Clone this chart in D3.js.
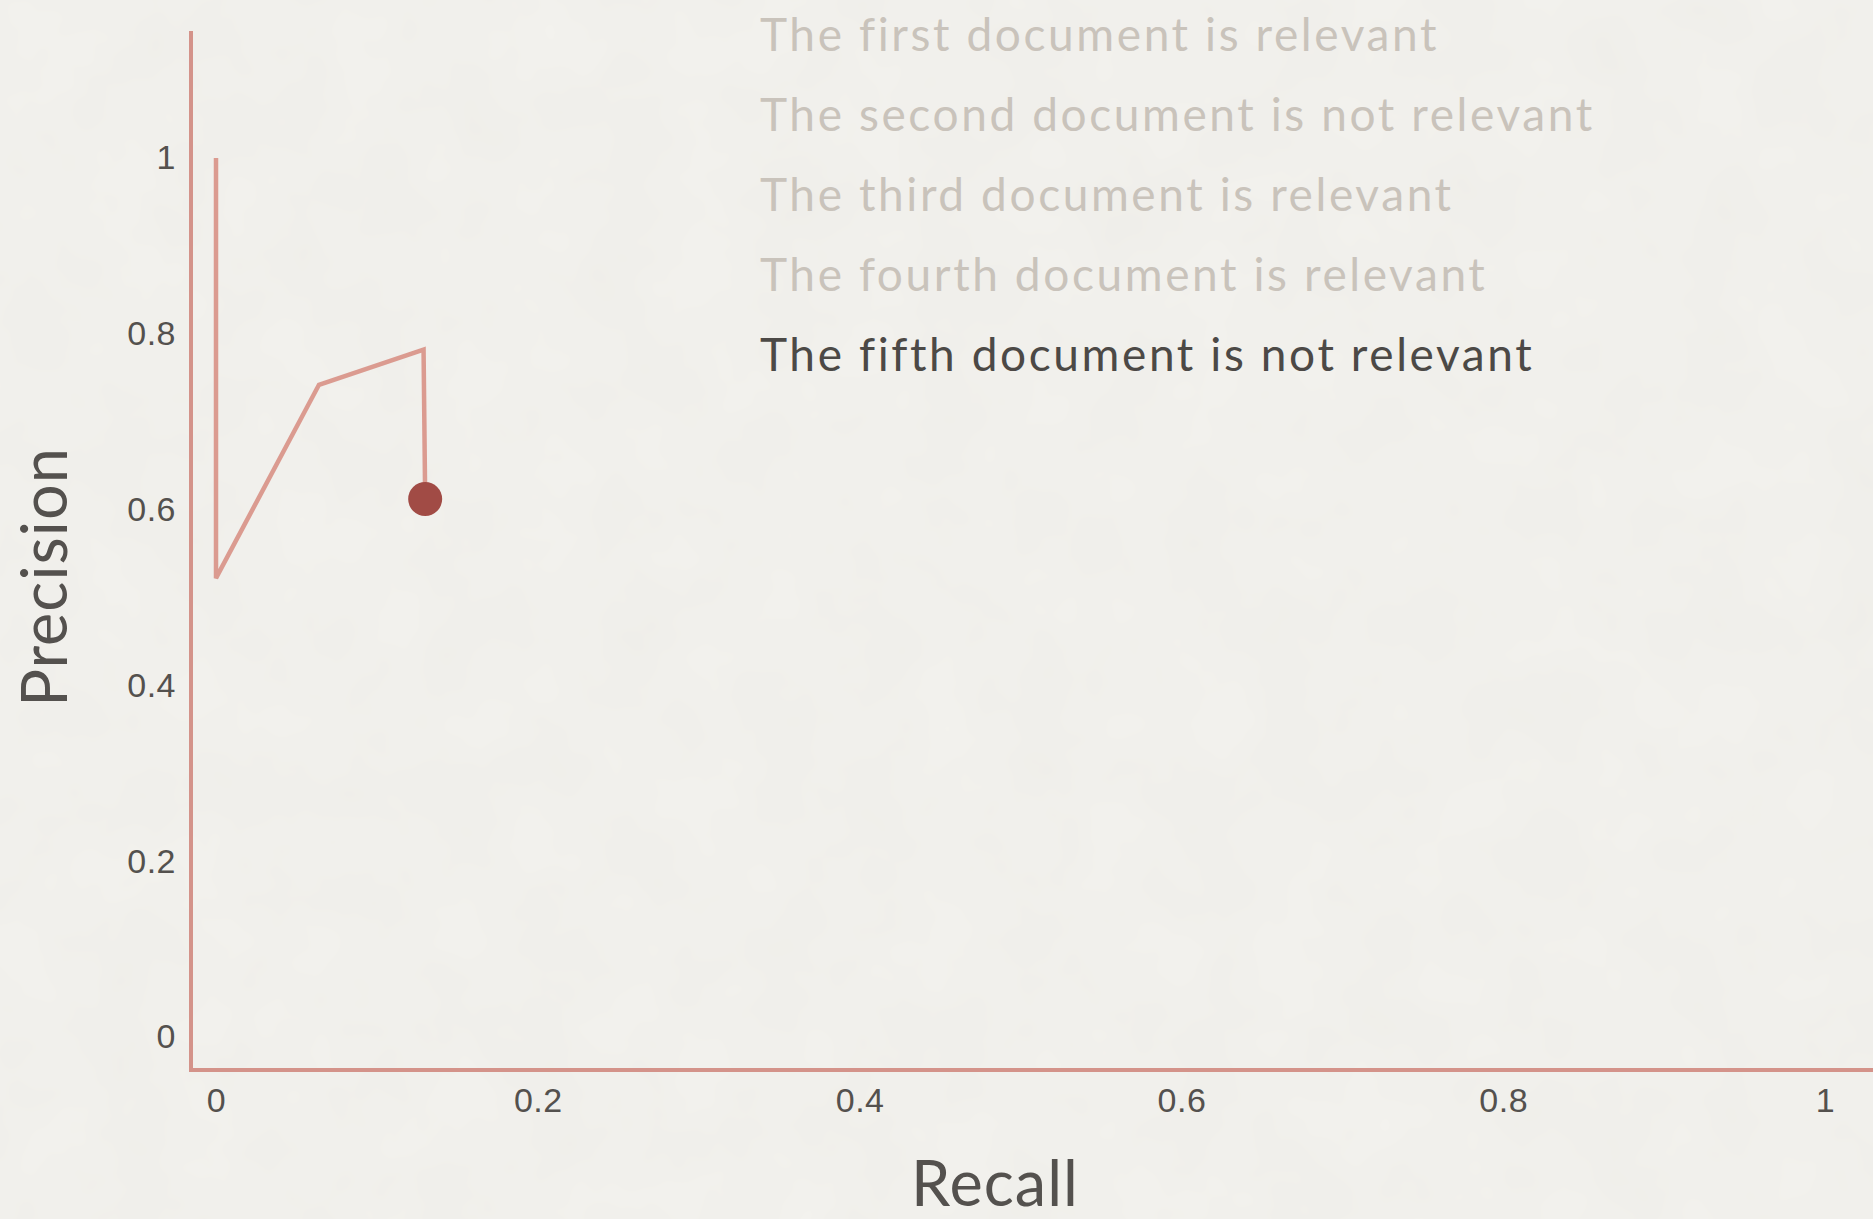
<!DOCTYPE html>
<html>
<head>
<meta charset="utf-8">
<script src="https://cdn.jsdelivr.net/npm/d3@7"></script>
<style>
  html, body { margin: 0; padding: 0; background: #f3f2ee; overflow: hidden; }
  svg { display: block; font-family: Lato, "Open Sans", sans-serif; }
  .tick text { fill: #54514e; font-size: 34px; letter-spacing: 0.5px; }
  .axis-line { stroke: #d4938a; stroke-width: 4; }
  .pr-line { fill: none; stroke: #d9968b; stroke-width: 4.5; stroke-opacity: 0.95; }
  .pr-dot { fill: #a14b45; }
  .axis-title { fill: #54514e; font-size: 63px; letter-spacing: 1px; }
  .step { font-size: 46px; letter-spacing: 2.6px; fill: #c9c3bb; }
  .step--active { fill: #4c4946; }
</style>
</head>
<body>
<svg class="chart"></svg>
<script>
document.addEventListener("DOMContentLoaded", function(){

  // values
  const recall    = [0, 0, 0.064, 0.129, 0.13];
  const precision = [1, 0.522, 0.742, 0.782, 0.612];
  const xTicks = [0, 0.2, 0.4, 0.6, 0.8, 1];
  const yTicks = [0, 0.2, 0.4, 0.6, 0.8, 1];
  const steps = [
    "The first document is relevant",
    "The second document is not relevant",
    "The third document is relevant",
    "The fourth document is relevant",
    "The fifth document is not relevant"
  ];
  const activeStep = 4;

  const width = 1873, height = 1219;
  const svg = d3.select(".chart").attr("width", width).attr("height", height);

  // faint paper grain
  const defs = svg.append("defs");
  const grain = defs.append("filter").attr("id", "grain").attr("x", 0).attr("y", 0).attr("width", "100%").attr("height", "100%");
  grain.append("feTurbulence").attr("type", "fractalNoise").attr("baseFrequency", 0.012).attr("numOctaves", 3).attr("seed", 4).attr("result", "noise");
  grain.append("feColorMatrix").attr("in", "noise").attr("type", "matrix")
       .attr("values", "0 0 0 0 0.55  0 0 0 0 0.54  0 0 0 0 0.5  0 0 0 0.09 0");
  svg.append("rect").attr("width", width).attr("height", height).attr("fill", "#f3f2ee");
  svg.append("rect").attr("width", width).attr("height", height).attr("filter", "url(#grain)");

  const x = d3.scaleLinear().domain([0, 1]).range([216, 1825]);
  const y = d3.scaleLinear().domain([0, 1]).range([1037, 158]);
  const axisX = 191, axisY = 1070;

  // axis lines, offset a little from the data origin
  svg.append("line").attr("class", "axis-line")
     .attr("x1", axisX).attr("x2", axisX).attr("y1", 31).attr("y2", axisY + 2);
  svg.append("line").attr("class", "axis-line")
     .attr("x1", axisX - 2).attr("x2", width).attr("y1", axisY).attr("y2", axisY);

  const fmt = d => d3.format("~g")(d);

  svg.append("g")
     .attr("transform", `translate(0,${axisY})`)
     .call(d3.axisBottom(x).tickValues(xTicks).tickFormat(fmt).tickSize(0).tickPadding(18))
     .call(g => g.select(".domain").remove())
     .call(g => g.selectAll("text").style("font-family", null));

  svg.append("g")
     .attr("transform", `translate(${axisX},0)`)
     .call(d3.axisLeft(y).tickValues(yTicks).tickFormat(fmt).tickSize(0).tickPadding(15))
     .call(g => g.select(".domain").remove())
     .call(g => g.selectAll("text").style("font-family", null));

  svg.append("text").attr("class", "axis-title")
     .attr("text-anchor", "middle")
     .attr("x", 995).attr("y", 1206)
     .text("Recall");

  svg.append("text").attr("class", "axis-title")
     .attr("text-anchor", "middle")
     .attr("transform", "translate(67,577)rotate(-90)")
     .text("Precision");

  const points = recall.map((r, i) => ({ r: r, p: precision[i] }));

  svg.append("path")
     .datum(points)
     .attr("class", "pr-line")
     .attr("d", d3.line().x(d => x(d.r)).y(d => y(d.p)));

  const last = points[points.length - 1];
  svg.append("circle").attr("class", "pr-dot")
     .attr("cx", x(last.r)).attr("cy", y(last.p)).attr("r", 17);

  svg.append("g")
     .selectAll("text")
     .data(steps)
     .enter()
     .append("text")
     .attr("class", (d, i) => i === activeStep ? "step step--active" : "step")
     .attr("x", 760)
     .attr("y", (d, i) => 51 + i * 80)
     .text(d => d);

});
</script>
</body>
</html>
